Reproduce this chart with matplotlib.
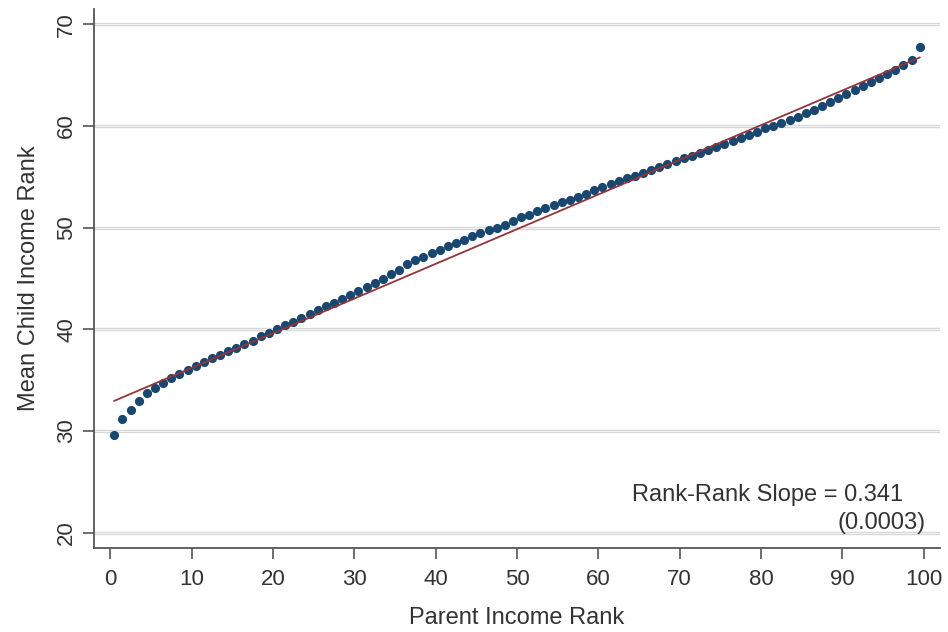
import matplotlib
matplotlib.use("Agg")
import matplotlib.pyplot as plt
import numpy as np

plt.rcParams['font.family'] = ['Liberation Sans', 'DejaVu Sans']

parent_rank = [i + 0.5 for i in range(100)]
child_rank = [
    29.6, 31.2, 32.1, 33.0, 33.7, 34.2, 34.7, 35.2, 35.6, 36.0,
    36.4, 36.8, 37.2, 37.5, 37.9, 38.2, 38.6, 38.9, 39.3, 39.6,
    40.0, 40.4, 40.7, 41.1, 41.5, 41.9, 42.3, 42.6, 43.0, 43.4,
    43.8, 44.2, 44.6, 45.0, 45.4, 45.8, 46.4, 46.8, 47.1, 47.5,
    47.85, 48.2, 48.5, 48.8, 49.2, 49.5, 49.8, 50.0, 50.3, 50.7,
    51.0, 51.25, 51.6, 51.9, 52.2, 52.5, 52.75, 53.05, 53.35, 53.7,
    54.0, 54.25, 54.55, 54.85, 55.1, 55.4, 55.7, 56.0, 56.25, 56.55,
    56.8, 57.05, 57.35, 57.65, 57.95, 58.25, 58.5, 58.85, 59.15, 59.45,
    59.75, 60.0, 60.3, 60.6, 60.9, 61.25, 61.6, 61.95, 62.35, 62.75,
    63.15, 63.55, 63.95, 64.35, 64.75, 65.15, 65.55, 66.0, 66.5, 67.75,
]
fit_intercept = 32.8
fit_slope = 0.341
x_ticks = [0, 10, 20, 30, 40, 50, 60, 70, 80, 90, 100]
y_ticks = [20, 30, 40, 50, 60, 70]

W, H = 948, 632
fig = plt.figure(figsize=(W / 100, H / 100), dpi=100)
ax = fig.add_axes([94 / W, (H - 548) / H, (940 - 94) / W, (548 - 9) / H])

ax.set_xlim(-2, 102)
ax.set_ylim(18.5, 71.5)

for yv in y_ticks:
    ax.axhline(yv, color='#d6d6d6', lw=2.4, zorder=1)
    ax.axhline(yv, color='#f2f2f2', lw=0.8, zorder=1)

xs = np.array([parent_rank[0], parent_rank[-1]])
ax.plot(xs, fit_intercept + fit_slope * xs, color='#90353b', lw=1.3, zorder=3)
ax.plot(parent_rank, child_rank, 'o', color='#1a476f', markersize=6.6,
        markeredgewidth=0, zorder=2)

for s in ['top', 'right']:
    ax.spines[s].set_visible(False)
for s in ['left', 'bottom']:
    ax.spines[s].set_color('#555555')
    ax.spines[s].set_linewidth(1.3)

ax.set_xticks(x_ticks)
ax.set_yticks(y_ticks)
ax.tick_params(axis='both', direction='out', length=8, width=1.2, color='#555555',
               labelsize=16, labelcolor='#333333')
ax.tick_params(axis='x', pad=7)
ax.tick_params(axis='y', pad=4)
for lab in ax.get_yticklabels():
    lab.set_rotation(90)
    lab.set_va('center')

ax.set_xlabel('Parent Income Rank', fontsize=17, color='#333333', labelpad=12)
ax.set_ylabel('Mean Child Income Rank', fontsize=17, color='#333333', labelpad=12)

ax.text(97.5, 23.7, 'Rank-Rank Slope = 0.341', ha='right', va='center',
        fontsize=17, color='#333333')
ax.text(100.2, 20.95, '(0.0003)', ha='right', va='center',
        fontsize=17, color='#333333')

fig.savefig('out.png', dpi=100)
